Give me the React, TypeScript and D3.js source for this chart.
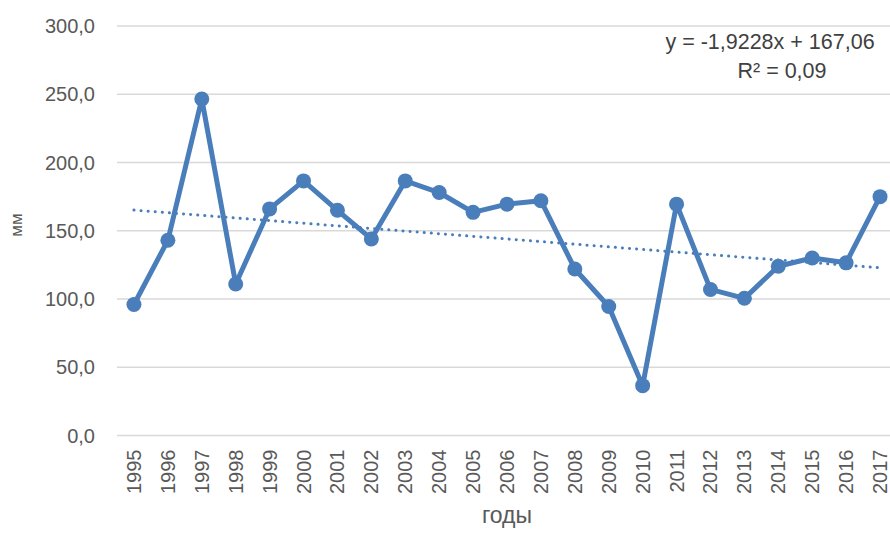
import React, { useEffect, useRef } from 'react';
import * as d3 from 'd3';

// Годы и значения (мм)
const years = [
  '1995', '1996', '1997', '1998', '1999', '2000', '2001', '2002', '2003', '2004', '2005', '2006',
  '2007', '2008', '2009', '2010', '2011', '2012', '2013', '2014', '2015', '2016', '2017'
];
const values = [
  96, 143, 246.5, 111, 166, 186.5, 165, 144, 186.5, 178, 163.5, 169.5,
  172, 122, 94.5, 36.5, 169.5, 107, 100.5, 124, 130, 126.5, 175
];
const yTicks = [0, 50, 100, 150, 200, 250, 300];

// Линейный тренд из подписи на графике
const trendSlope = -1.9228;
const trendIntercept = 167.06;
const trendLabel = ['y = -1,9228x + 167,06', 'R² = 0,09'];

const App = () => {
  const width = 890;
  const height = 535;
  const margin = { top: 26, right: -7, bottom: 99.5, left: 117 };
  const svgRef = useRef<SVGSVGElement | null>(null);

  useEffect(() => {
    const svg = d3.select(svgRef.current);
    svg.selectAll('*').remove();

    const innerWidth = width - margin.left - margin.right;
    const innerHeight = height - margin.top - margin.bottom;
    const blue = '#4a7ebb';
    const font = '"Liberation Sans", Arial, sans-serif';

    const x = d3.scaleBand<string>().domain(years).range([0, innerWidth]);
    const cx = (d: string) => (x(d) as number) + x.bandwidth() / 2;
    const y = d3.scaleLinear().domain([0, 300]).range([innerHeight, 0]);

    const g = svg.append('g').attr('transform', `translate(${margin.left},${margin.top})`);

    // Gridlines
    g.selectAll('line.grid')
      .data(yTicks)
      .enter()
      .append('line')
      .attr('class', 'grid')
      .attr('x1', 0)
      .attr('x2', innerWidth)
      .attr('y1', (d) => y(d))
      .attr('y2', (d) => y(d))
      .attr('stroke', '#d9d9d9')
      .attr('stroke-width', 1.3);

    // Y tick labels
    g.selectAll('text.ytick')
      .data(yTicks)
      .enter()
      .append('text')
      .attr('class', 'ytick')
      .attr('x', -22)
      .attr('y', (d) => y(d))
      .attr('dy', '0.35em')
      .attr('text-anchor', 'end')
      .style('font-family', font)
      .style('font-size', '20px')
      .style('fill', '#595959')
      .text((d) => d3.format('.1f')(d).replace('.', ','));

    // X tick labels (rotated)
    g.selectAll('text.xtick')
      .data(years)
      .enter()
      .append('text')
      .attr('class', 'xtick')
      .attr('transform', (d) => `translate(${cx(d)},${innerHeight + 14}) rotate(-90)`)
      .attr('dy', '0.35em')
      .attr('text-anchor', 'end')
      .style('font-family', font)
      .style('font-size', '20px')
      .style('fill', '#595959')
      .text((d) => d);

    // Trendline
    const trend = (i: number) => trendSlope * (i + 1) + trendIntercept;
    g.append('line')
      .attr('x1', cx(years[0]))
      .attr('x2', cx(years[years.length - 1]))
      .attr('y1', y(trend(0)))
      .attr('y2', y(trend(years.length - 1)))
      .attr('stroke', blue)
      .attr('stroke-width', 3)
      .attr('stroke-linecap', 'round')
      .attr('stroke-dasharray', '0.1 7');

    // Data line
    const line = d3
      .line<number>()
      .x((_, i) => cx(years[i]))
      .y((d) => y(d));
    g.append('path')
      .datum(values)
      .attr('d', line)
      .attr('fill', 'none')
      .attr('stroke', blue)
      .attr('stroke-width', 5)
      .attr('stroke-linejoin', 'round');

    g.selectAll('circle')
      .data(values)
      .enter()
      .append('circle')
      .attr('cx', (_, i) => cx(years[i]))
      .attr('cy', (d) => y(d))
      .attr('r', 7.5)
      .attr('fill', blue);

    // Equation
    svg
      .selectAll('text.eq')
      .data(trendLabel)
      .enter()
      .append('text')
      .attr('class', 'eq')
      .attr('x', (_, i) => (i === 0 ? 770 : 782))
      .attr('y', (_, i) => 49 + i * 29)
      .attr('text-anchor', 'middle')
      .style('font-family', font)
      .style('font-size', '21.5px')
      .style('fill', '#404040')
      .text((d) => d);

    // Axis titles
    svg
      .append('text')
      .attr('transform', `translate(22,225) rotate(-90)`)
      .attr('text-anchor', 'middle')
      .style('font-family', font)
      .style('font-size', '17px')
      .style('fill', '#595959')
      .text('мм');

    svg
      .append('text')
      .attr('x', margin.left + innerWidth / 2)
      .attr('y', 523)
      .attr('text-anchor', 'middle')
      .style('font-family', font)
      .style('font-size', '23px')
      .style('fill', '#595959')
      .text('годы');
  }, []);

  return (
    <svg
      ref={svgRef}
      width={width}
      height={height}
      style={{ position: 'absolute', left: 0, top: 0, background: '#fff' }}
    ></svg>
  );
};

export default App;
